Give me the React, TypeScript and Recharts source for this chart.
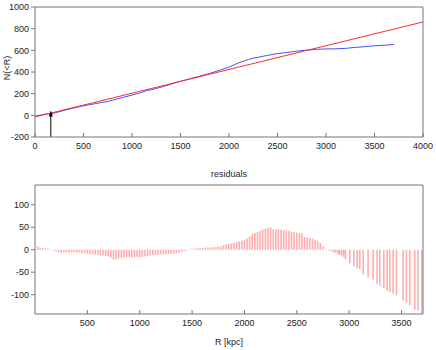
import { ComposedChart, Line, XAxis, YAxis, Bar, ReferenceLine } from "recharts";

// counts N(<R), blue curve
const countR = [10, 100, 200, 300, 400, 500, 600, 700, 750, 800, 900, 1000, 1100, 1150, 1200, 1300, 1400, 1500, 1600, 1700, 1800, 1900, 2000, 2100, 2200, 2250, 2300, 2400, 2500, 2600, 2700, 2800, 2900, 3000, 3100, 3200, 3300, 3400, 3500, 3600, 3700];
const countN = [-6, 10, 21, 46, 68, 88, 104, 121, 127, 140, 164, 187, 211, 229, 236, 260, 287, 314, 338, 362, 387, 415, 445, 485, 515, 528, 536, 554, 571, 580, 593, 601, 609, 613, 614, 618, 627, 634, 642, 647, 654];

// linear fit, red line (end points)
const fitR = [0, 4000];
const fitN = [-15, 862];

// arrow marker
const arrowR = 163;
const arrowFrom = -200;
const arrowTo = 45;

// residuals
const resR = [
  25, 50, 75, 100, 125, 150, 175, 200, 225, 250, 275, 300, 325, 350, 375, 400, 425, 450, 475, 500,
  525, 550, 575, 600, 625, 650, 675, 700, 725, 750, 775, 800, 825, 850, 875, 900, 925, 950, 975, 1000,
  1025, 1050, 1075, 1100, 1125, 1150, 1175, 1200, 1225, 1250, 1275, 1300, 1325, 1350, 1375, 1400, 1425, 1450, 1475, 1500,
  1525, 1550, 1575, 1600, 1625, 1650, 1675, 1700, 1725, 1750, 1775, 1800, 1825, 1850, 1875, 1900, 1925, 1950, 1975, 2000,
  2025, 2050, 2075, 2100, 2125, 2150, 2175, 2200, 2225, 2250, 2275, 2300, 2325, 2350, 2375, 2400, 2425, 2450, 2475, 2500,
  2525, 2550, 2575, 2600, 2625, 2650, 2675, 2700, 2725, 2750,
  2784, 2810, 2832, 2854, 2873, 2895, 2911, 2930, 2949, 2965, 3007, 3045, 3077, 3102, 3134, 3181, 3229, 3267, 3293, 3331,
  3363, 3388, 3420, 3452, 3516, 3547, 3579, 3627, 3658, 3695,
];
const resV = [
  7, 5, 4, 4, 2, 1, -2, -4, -6, -7, -6, -6, -7, -6, -6, -7, -6, -8, -8, -9,
  -10, -10, -11, -12, -13, -13, -14, -15, -18, -22, -21, -19, -18, -18, -17, -17, -18, -17, -16, -17,
  -16, -15, -14, -13, -12, -11, -11, -10, -11, -10, -10, -9, -9, -8, -7, -5, -3, -2, 0, 2,
  3, 3, 4, 4, 5, 5, 5, 5, 6, 7, 8, 10, 12, 13, 14, 16, 17, 19, 20, 22,
  25, 30, 35, 37, 39, 42, 45, 47, 49, 50, 45, 45, 46, 45, 44, 43, 42, 40, 39, 38,
  37, 36, 28, 27, 26, 25, 22, 19, 15, 8,
  -1, -2, -4, -6, -7, -10, -11, -13, -16, -21, -30, -37, -41, -43, -55, -61, -67, -76, -80, -85,
  -91, -94, -98, -101, -113, -118, -124, -133, -136, -141,
];

const topXTicks = [0, 500, 1000, 1500, 2000, 2500, 3000, 3500, 4000];
const topYTicks = [-200, 0, 200, 400, 600, 800, 1000];
const resXTicks = [500, 1000, 1500, 2000, 2500, 3000, 3500];
const resYTicks = [-100, -50, 0, 50, 100];

const countData = countR.map((r, i) => ({ r, n: countN[i] }));
const fitData = fitR.map((r, i) => ({ r, n: fitN[i] }));
const resData = resR.map((r, i) => ({ r, v: resV[i] }));

const FONT = "Liberation Sans, Arial, sans-serif";
const tickStyle = { fontSize: 9, fill: "#222", fontFamily: FONT };
const axisColor = "#777";

const Arrow = (p: any) => {
  const x = p.x1;
  const tip = Math.min(p.y1, p.y2);
  const base = Math.max(p.y1, p.y2);
  return (
    <g>
      <line x1={x} y1={base} x2={x} y2={tip + 4} stroke="#000" strokeWidth={1} />
      <polygon points={`${x},${tip} ${x - 2},${tip + 6} ${x + 2},${tip + 6}`} fill="#000" />
    </g>
  );
};

const YLabel = (p: any) => {
  const vb = p.viewBox;
  const x = vb.x + 7;
  const y = vb.y + vb.height / 2 - 4;
  return (
    <text
      x={x}
      y={y}
      transform={`rotate(-90 ${x} ${y})`}
      textAnchor="middle"
      dominantBaseline="central"
      fontSize={9}
      fontFamily={FONT}
      fill="#222"
    >
      {"N(<R)"}
    </text>
  );
};

export default function App() {
  return (
    <div style={{ position: "absolute", left: 0, top: 0, width: 436, height: 350, background: "#fff" }}>
      <div style={{ position: "absolute", left: 0, top: 0 }}>
        <ComposedChart width={436} height={160} margin={{ top: 7, right: 13, left: 0, bottom: 0 }}>
          <XAxis
            dataKey="r"
            type="number"
            domain={[0, 4000]}
            ticks={topXTicks}
            height={23}
            tickSize={-4}
            tickMargin={10}
            tick={tickStyle}
            stroke={axisColor}
            allowDataOverflow
          />
          <XAxis
            xAxisId="top"
            dataKey="r"
            orientation="top"
            type="number"
            domain={[0, 4000]}
            ticks={topXTicks}
            height={1}
            mirror
            tick={false}
            stroke={axisColor}
            allowDataOverflow
          />
          <YAxis
            type="number"
            domain={[-200, 1000]}
            ticks={topYTicks}
            width={35}
            tickSize={4}
            tickMargin={2}
            tick={tickStyle}
            stroke={axisColor}
            label={{ value: "N(<R)", content: YLabel }}
            allowDataOverflow
          />
          <YAxis
            yAxisId="right"
            orientation="right"
            type="number"
            domain={[-200, 1000]}
            ticks={topYTicks}
            width={1}
            mirror
            tick={false}
            stroke={axisColor}
            allowDataOverflow
          />
          <Line data={countData} dataKey="n" stroke="#4d4dff" strokeWidth={1} dot={false} isAnimationActive={false} />
          <Line data={fitData} dataKey="n" stroke="#ff2a2a" strokeWidth={1} dot={false} isAnimationActive={false} />
          <Line
            data={fitData}
            dataKey="n"
            xAxisId="top"
            yAxisId="right"
            stroke="none"
            dot={false}
            activeDot={false}
            legendType="none"
            isAnimationActive={false}
          />
          <ReferenceLine
            segment={[
              { x: arrowR, y: arrowFrom },
              { x: arrowR, y: arrowTo },
            ]}
            shape={Arrow}
          />
        </ComposedChart>
      </div>
      <div style={{ position: "absolute", left: 0, top: 170 }}>
        <ComposedChart width={436} height={180} data={resData} margin={{ top: 15, right: 13, left: 0, bottom: 0 }}>
          <XAxis
            dataKey="r"
            type="number"
            domain={[0, 3705]}
            ticks={resXTicks}
            height={36}
            tickSize={-4}
            tickMargin={10}
            tick={tickStyle}
            stroke={axisColor}
            allowDataOverflow
            label={{ value: "R [kpc]", position: "insideBottom", offset: 5, fontSize: 9, fill: "#222", fontFamily: FONT }}
          />
          <XAxis
            xAxisId="top"
            dataKey="r"
            orientation="top"
            type="number"
            domain={[0, 3705]}
            ticks={resXTicks}
            height={1}
            mirror
            tick={false}
            stroke={axisColor}
            allowDataOverflow
            label={{ value: "residuals", position: "top", offset: 8, fontSize: 9, fill: "#222", fontFamily: FONT }}
          />
          <YAxis
            type="number"
            domain={[-143, 144]}
            ticks={resYTicks}
            width={35}
            tickSize={4}
            tickMargin={2}
            tick={tickStyle}
            stroke={axisColor}
            allowDataOverflow
          />
          <YAxis
            yAxisId="right"
            orientation="right"
            type="number"
            domain={[-143, 144]}
            ticks={resYTicks}
            width={1}
            mirror
            tick={false}
            stroke={axisColor}
            allowDataOverflow
          />
          <Bar dataKey="v" fill="#ff5c5c" fillOpacity={0.5} barSize={1.6} isAnimationActive={false} />
          <Line
            dataKey="v"
            xAxisId="top"
            yAxisId="right"
            stroke="none"
            dot={false}
            activeDot={false}
            legendType="none"
            isAnimationActive={false}
          />
        </ComposedChart>
      </div>
    </div>
  );
}
